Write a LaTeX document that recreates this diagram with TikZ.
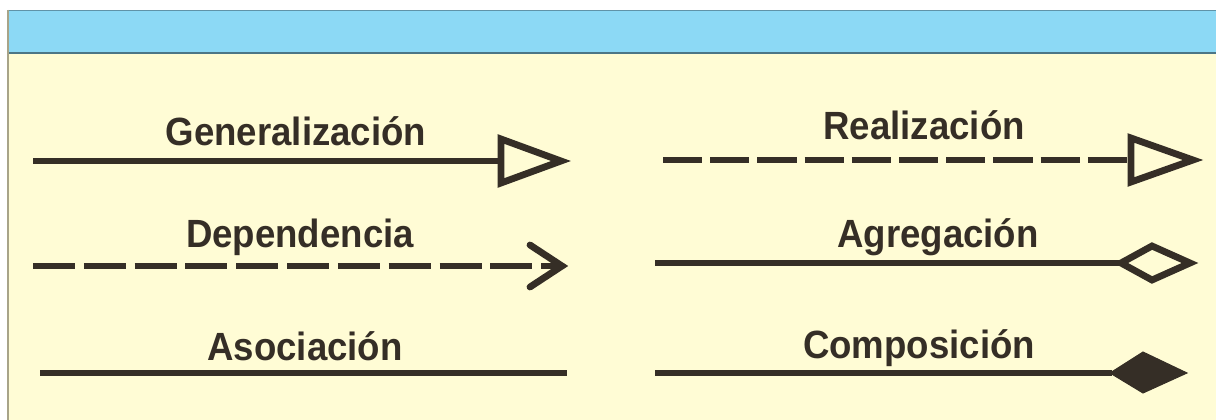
\documentclass[tikz,border=0pt]{standalone}
\usepackage{fontspec}
\setmainfont{Liberation Sans}
\newcommand{\lblt}[1]{\scalebox{0.93}[1]{#1}}
\begin{document}
\begin{tikzpicture}[x=0.025cm,y=-0.025cm,
  ink/.style={draw=inkc,line width=6.8*0.025cm},
  lbl/.style={anchor=base,text=inkc,inner sep=0pt,font=\bfseries\fontsize{28}{32}\selectfont},
  dashA/.style={dash pattern=on 1.05cm off 0.22cm},
  dashB/.style={dash pattern=on 0.98cm off 0.2cm},
  head/.style={draw=inkc,line width=6.8*0.025cm,line join=miter,miter limit=10}]
\definecolor{inkc}{HTML}{352E26}
\definecolor{bandc}{HTML}{8CD9F5}
\definecolor{bandedge}{HTML}{5F93A8}
\definecolor{paper}{HTML}{FFFCD5}
\definecolor{frame}{HTML}{A8A488}
\useasboundingbox (0,0) rectangle (1216,420);
\fill[white] (0,0) rectangle (1216,420);
% panel
\fill[paper] (7,53) rectangle (1216,420);
\fill[bandc] (7,10) rectangle (1216,53);
\draw[bandedge,line width=1.5*0.025cm] (7,10.5) -- (1216,10.5);
\draw[bandedge!80!black,line width=2.5*0.025cm] (7,53) -- (1216,53);
\draw[frame,line width=2*0.025cm] (8,10) -- (8,420);
% labels
\node[lbl] (tgen) at (296,145) {\lblt{Generalización}};
\node[lbl] (treal) at (924,139) {\lblt{Realización}};
\node[lbl] (tdep) at (300,247) {\lblt{Dependencia}};
\node[lbl] (tagr) at (938,247) {\lblt{Agregación}};
\node[lbl] (taso) at (305,360) {\lblt{Asociación}};
\node[lbl] (tcom) at (919,358) {\lblt{Composición}};
% coordinates
\coordinate (g0) at (33,161);   \coordinate (g1) at (501,161);
\coordinate (r0) at (663,160);  \coordinate (r1) at (1131,160);
\coordinate (d0) at (33,266);   \coordinate (d1) at (560,266);
\coordinate (a0) at (655,263);  \coordinate (a1) at (1121,263);
\coordinate (s0) at (40,373);   \coordinate (s1) at (567,373);
\coordinate (c0) at (655,373);  \coordinate (c1) at (1112,373);
% Generalizacion
\draw[ink] (g0) -- (g1);
\draw[head] (g1) ++(0,-22) -- ++(60,22) -- ++(-60,22) -- cycle;
% Realizacion
\draw[ink,dashB] (r0) -- (r1);
\draw[head] (r1) ++(0,-22) -- ++(62,22) -- ++(-62,22) -- cycle;
% Dependencia
\draw[ink,dashA] (d0) -- (d1);
\draw[head,line cap=round] (d1) ++(-30,-21) -- ++(32,21) -- ++(-32,21);
% Agregacion
\draw[ink] (a0) -- (a1);
\draw[head] (a1) -- ++(31,-17) -- ++(38,17) -- ++(-38,17) -- cycle;
% Asociacion
\draw[ink] (s0) -- (s1);
% Composicion
\draw[ink] (c0) -- (c1);
\filldraw[fill=inkc,draw=inkc,line width=1*0.025cm] (c1) ++(-2,0) -- ++(33,-21) -- ++(44,21) -- ++(-44,20) -- cycle;
\end{tikzpicture}
\end{document}
